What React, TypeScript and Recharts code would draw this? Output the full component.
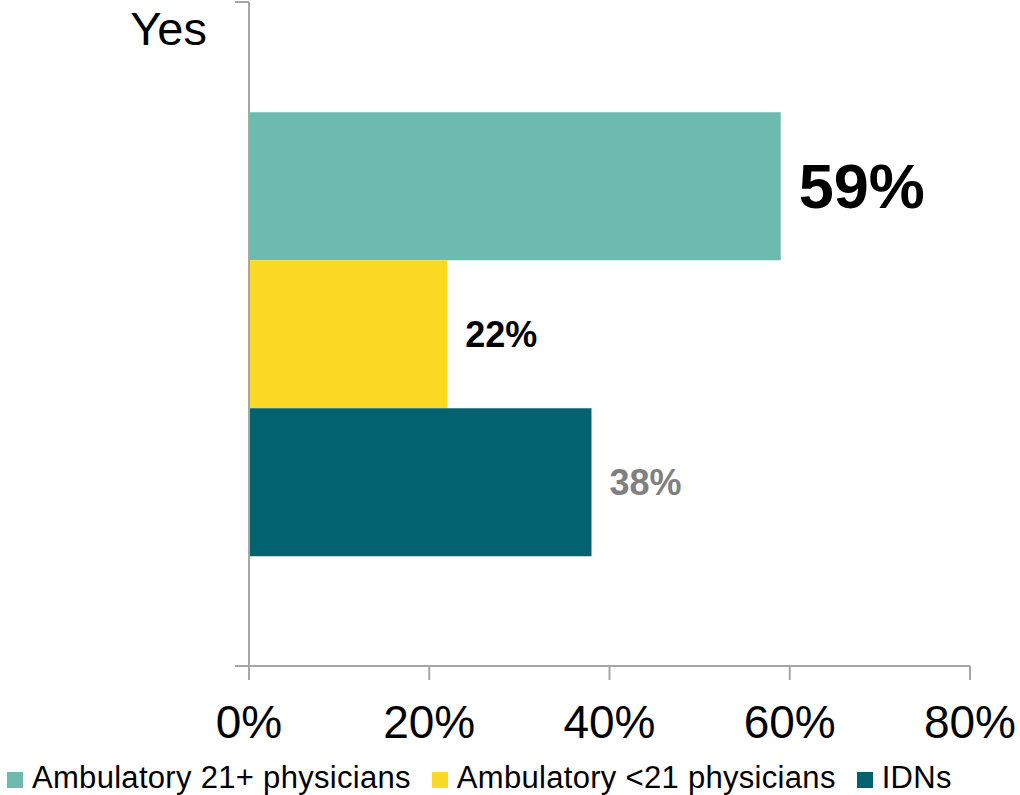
import { BarChart, Bar, XAxis, YAxis, Legend, LabelList } from 'recharts';

const categories = ['Yes'];
const ambulatoryLarge = [59];
const ambulatorySmall = [22];
const idns = [38];
const xTicks = [0, 20, 40, 60, 80];

const seriesNames = ['Ambulatory 21+ physicians', 'Ambulatory <21 physicians', 'IDNs'];
const seriesColors = ['#6dbbae', '#fbd924', '#02626f'];

const data = categories.map((c, i) => ({
  category: c,
  large: ambulatoryLarge[i],
  small: ambulatorySmall[i],
  idn: idns[i],
}));

const FONT = '"Liberation Sans", Arial, sans-serif';
const AXIS_GRAY = '#a6a6a6';

// category tick: label at the top of the band, tick marks on band edges
const YesTick = ({ x, y, payload }: any) => {
  const half = payload.offset || 0;
  return (
    <g>
      <line x1={x - 14} x2={x} y1={y - half} y2={y - half} stroke={AXIS_GRAY} strokeWidth={2} />
      <line x1={x - 14} x2={x} y1={y + half} y2={y + half} stroke={AXIS_GRAY} strokeWidth={2} />
      <text x={x - 42} y={y - half + 43} textAnchor="end" fontSize={47} fontFamily={FONT} fill="#000">
        {payload.value}
      </text>
    </g>
  );
};

const makeLabel = (size: number, color: string) => (props: any) => {
  const { x, y, width, height, value } = props;
  return (
    <text
      x={x + width + 18}
      y={y + height / 2}
      dominantBaseline="central"
      fontSize={size}
      fontWeight="bold"
      fontFamily={FONT}
      fill={color}
    >
      {value}%
    </text>
  );
};

const LegendContent = () => (
  <div style={{ display: 'flex', alignItems: 'center', height: 34, paddingLeft: 7, fontFamily: FONT, fontSize: 31, letterSpacing: 0.3, color: '#000', whiteSpace: 'nowrap' }}>
    {seriesNames.map((name, i) => (
      <div key={name} style={{ display: 'flex', alignItems: 'center', marginRight: 21 }}>
        <span style={{ width: 16, height: 16, backgroundColor: seriesColors[i], marginRight: 9, marginTop: 4 }} />
        <span>{name}</span>
      </div>
    ))}
  </div>
);

export default function App() {
  return (
    <div style={{ position: 'absolute', left: 0, top: 0, background: '#fff' }}>
      <BarChart
        width={1020}
        height={795}
        data={data}
        layout="vertical"
        margin={{ top: 2, right: 50, left: 0, bottom: 0 }}
        barCategoryGap="16.6%"
        barGap={0}
      >
        <XAxis
          type="number"
          domain={[0, 80]}
          ticks={xTicks}
          tickFormatter={(v: number) => `${v}%`}
          stroke={AXIS_GRAY}
          strokeWidth={2}
          tickSize={14}
          tickMargin={25}
          height={95}
          tick={{ fill: '#000', fontSize: 46, fontFamily: FONT }}
          interval={0}
        />
        <YAxis
          type="category"
          dataKey="category"
          width={249}
          stroke={AXIS_GRAY}
          strokeWidth={2}
          tickLine={false}
          tickSize={0}
          tickMargin={0}
          tick={<YesTick />}
        />
        <Legend verticalAlign="bottom" align="left" content={<LegendContent />} wrapperStyle={{ left: 0, bottom: 0, width: 1020 }} />
        <Bar dataKey="large" name={seriesNames[0]} fill={seriesColors[0]} isAnimationActive={false}>
          <LabelList dataKey="large" content={makeLabel(63, '#000')} />
        </Bar>
        <Bar dataKey="small" name={seriesNames[1]} fill={seriesColors[1]} isAnimationActive={false}>
          <LabelList dataKey="small" content={makeLabel(36, '#000')} />
        </Bar>
        <Bar dataKey="idn" name={seriesNames[2]} fill={seriesColors[2]} isAnimationActive={false}>
          <LabelList dataKey="idn" content={makeLabel(36, '#808080')} />
        </Bar>
      </BarChart>
    </div>
  );
}
